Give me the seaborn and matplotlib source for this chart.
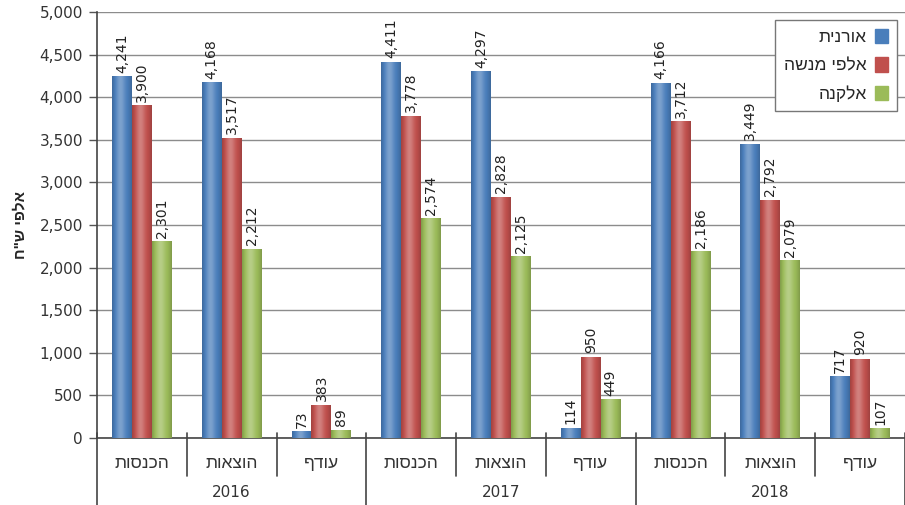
import numpy as np
import pandas as pd
import matplotlib
matplotlib.use("Agg")
import matplotlib.pyplot as plt
import matplotlib.transforms as mtransforms
from matplotlib.patches import Patch
from matplotlib.colors import to_rgb
import seaborn as sns

# ---- data -------------------------------------------------------------
years = ["2016", "2017", "2018"]
items = ["הכנסות", "הוצאות", "עודף"]
series = ["אורנית", "אלפי מנשה", "אלקנה"]

oranit = [4241, 4168, 73, 4411, 4297, 114, 4166, 3449, 717]
alfei_menashe = [3900, 3517, 383, 3778, 2828, 950, 3712, 2792, 920]
elkana = [2301, 2212, 89, 2574, 2125, 449, 2186, 2079, 107]

y_title = 'אלפי ש"ח'
colors = ["#4A7EBB", "#C0504D", "#9BBB59"]


def rtl(s):
    # matplotlib places glyphs left-to-right; flip Hebrew for visual order
    return s[::-1]


cats = [f"{y}|{it}" for y in years for it in items]
values = [oranit, alfei_menashe, elkana]
df = pd.DataFrame({
    "cat": np.tile(cats, 3),
    "series": np.repeat(series, len(cats)),
    "value": np.concatenate(values),
})

# ---- figure -----------------------------------------------------------
sns.set_style("white")
plt.rcParams["font.family"] = ["DejaVu Sans"]
heb_font = ["Liberation Sans", "DejaVu Sans"]

fig = plt.figure(figsize=(9.05, 5.05), dpi=100)
ax = fig.add_axes([97 / 905, 67 / 505, 808 / 905, 426 / 505])

sns.barplot(data=df, x="cat", y="value", hue="series", order=cats,
            hue_order=series, palette=colors, saturation=1, width=0.667,
            gap=0, ax=ax, legend=False, errorbar=None, zorder=3,
            linewidth=0)

# shaded overlay giving each bar a rounded, glossy look
def shade(rgb, n=64):
    x = np.linspace(-1, 1, n)
    light = 0.28 * np.exp(-((x + 0.15) / 0.45) ** 2) - 0.18 * np.abs(x) ** 3
    base = np.array(rgb)
    out = np.empty((1, n, 4))
    for i, l in enumerate(light):
        if l >= 0:
            c = base + (1 - base) * l
        else:
            c = base * (1 + l)
        out[0, i, :3] = np.clip(c, 0, 1)
        out[0, i, 3] = 1
    return out

for cont, col in zip(ax.containers, colors):
    img = shade(to_rgb(col))
    for bar in cont:
        x0, y0 = bar.get_x(), bar.get_y()
        w, h = bar.get_width(), bar.get_height()
        if h <= 0:
            continue
        ax.imshow(img, extent=[x0, x0 + w, y0, y0 + h], aspect="auto",
                  interpolation="bicubic", zorder=3.5)

# value labels
for cont, vals in zip(ax.containers, values):
    ax.bar_label(cont, labels=[f"{v:,}" for v in vals], rotation=90,
                 padding=3, fontsize=10, color="#222222", zorder=5)

# axes styling
ax.set_xlim(-0.5, 8.5)
ax.set_ylim(0, 5000)
ax.set_yticks(np.arange(0, 5001, 500))
ax.set_yticklabels([f"{t:,}" for t in range(0, 5001, 500)], fontsize=11,
                   color="#333333")
ax.yaxis.grid(True, color="#8c8c8c", linewidth=1.0, zorder=0)
ax.set_axisbelow(True)
ax.tick_params(axis="y", length=6, width=1, color="#555555", left=True,
               pad=4)
ax.set_xticks([])
ax.set_xlabel("")
ax.set_ylabel(rtl(y_title), fontsize=11, fontweight="bold",
              family=heb_font, labelpad=9)
for side in ["top", "right"]:
    ax.spines[side].set_visible(False)
for side in ["left", "bottom"]:
    ax.spines[side].set_color("#444444")
    ax.spines[side].set_linewidth(1.2)

# two-level category axis
trans = mtransforms.blended_transform_factory(ax.transData, ax.transAxes)
for i, c in enumerate(cats):
    yr, it = c.split("|")
    ax.text(i, -0.06, rtl(it), transform=trans, ha="center", va="center",
            fontsize=12.5, family=heb_font, color="#333333")
for j, yr in enumerate(years):
    ax.text(3 * j + 1, -0.127, yr, transform=trans, ha="center",
            va="center", fontsize=11, color="#333333")
for b in np.arange(-0.5, 9, 1.0):
    year_edge = abs((b + 0.5) % 3) < 1e-9
    y_low = -0.16 if year_edge else -0.09
    ax.plot([b, b], [0.012, y_low], transform=trans, color="#444444",
            lw=1.2, clip_on=False, zorder=6)

# legend with swatches on the right
handles = [Patch(facecolor=c, edgecolor=c) for c in colors]
leg = ax.legend(handles, [rtl(s) for s in series], loc="upper right",
                bbox_to_anchor=(0.99, 0.981), borderaxespad=0,
                markerfirst=False,
                handlelength=0.75, handleheight=0.9, handletextpad=0.5,
                labelspacing=0.7, borderpad=0.5, fancybox=False,
                framealpha=1, edgecolor="#777777",
                prop={"family": heb_font, "size": 12.5})
leg.get_frame().set_linewidth(1.0)
leg.set_zorder(10)

fig.savefig("out.png", dpi=100)
